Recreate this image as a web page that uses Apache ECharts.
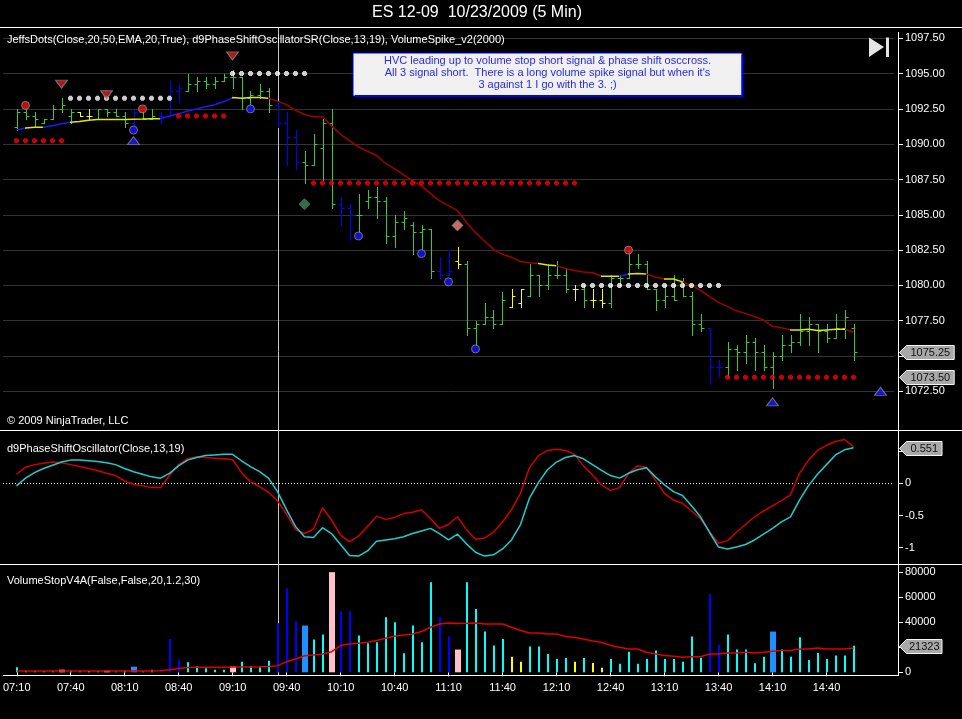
<!DOCTYPE html>
<html><head><meta charset="utf-8">
<script src="https://cdn.jsdelivr.net/npm/echarts@6/dist/echarts.min.js"></script>
<style>html,body{margin:0;padding:0;background:#000;}#c{width:962px;height:719px;}</style>
</head><body><div id="c"></div>
<script>
// ---------------- DATA ----------------
const tickLabels = ['07:10','07:40','08:10','08:40','09:10','09:40','10:10','10:40','11:10','11:40','12:10','12:40','13:10','13:40','14:10','14:40'];
const firstBarTime = '07:10';
const barMinutes = 5;

const barOpen = [1091.25,1092.25,1092.0,1091.5,1091.75,1092.5,1092.0,1092.25,1092.0,1091.75,
1092.5,1092.25,1092.0,1091.5,1092.25,1091.75,1092.0,1092.0,1093.75,1093.75,
1094.25,1094.5,1094.25,1094.5,1094.75,1094.75,1093.25,1093.5,1093.75,1092.75,
1091.5,1090.5,1088.75,1088.5,1089.75,1091.5,1085.75,1085.5,1085.0,1086.0,
1086.25,1086.0,1083.5,1084.5,1084.25,1083.75,1084.0,1081.0,1080.75,1081.75,
1081.5,1077.0,1077.25,1077.75,1077.25,1078.5,1078.75,1079.25,1080.75,1080.0,
1080.75,1080.75,1079.75,1079.75,1079.0,1079.0,1078.75,1080.5,1080.5,1081.5,
1081.5,1079.75,1079.0,1079.25,1080.25,1079.25,1077.25,1077.0,1074.25,1074.25,
1075.5,1075.25,1076.0,1075.25,1074.25,1075.0,1075.75,1076.0,1076.75,1077.25,
1076.75,1076.25,1077.0,1077.0];
const barHigh = [1092.5,1092.5,1092.25,1091.75,1092.75,1093.25,1092.5,1092.25,1092.5,1092.5,
1092.5,1092.5,1092.25,1092.5,1092.25,1092.5,1092.25,1094.5,1094.25,1095.0,
1094.75,1094.75,1094.75,1095.0,1095.25,1094.75,1093.75,1094.25,1094.0,1093.0,
1092.25,1091.0,1089.5,1090.75,1091.75,1092.5,1086.25,1085.75,1086.5,1086.75,
1087.0,1086.25,1085.0,1085.25,1084.5,1084.25,1084.0,1082.0,1082.5,1082.75,
1081.75,1077.5,1078.75,1078.25,1079.5,1079.75,1079.75,1081.5,1080.75,1081.5,
1081.75,1081.25,1080.0,1080.0,1079.75,1079.75,1080.75,1080.75,1082.5,1082.25,
1081.75,1079.75,1080.0,1080.75,1080.5,1079.5,1078.0,1077.0,1074.75,1076.0,
1075.75,1076.5,1076.25,1075.75,1075.25,1076.5,1076.5,1078.0,1077.75,1077.25,
1077.25,1078.0,1078.25,1077.25];
const barLow = [1091.0,1091.75,1091.25,1091.5,1091.75,1092.25,1091.5,1092.0,1091.75,1091.75,
1092.0,1092.0,1091.25,1091.0,1091.75,1091.75,1091.5,1092.0,1093.0,1093.75,
1093.75,1094.0,1094.0,1094.5,1094.0,1092.5,1092.75,1093.25,1092.25,1091.25,
1088.5,1088.25,1087.25,1088.5,1087.5,1085.5,1084.25,1083.25,1083.75,1085.5,
1084.75,1083.0,1082.75,1084.0,1082.25,1082.5,1080.5,1080.5,1080.75,1081.25,
1076.5,1075.75,1077.25,1077.0,1077.25,1078.5,1078.5,1079.25,1079.25,1079.75,
1080.5,1079.5,1079.0,1078.5,1078.5,1078.5,1078.5,1080.0,1080.5,1081.25,
1079.75,1078.25,1078.5,1079.0,1079.25,1076.5,1076.75,1073.0,1073.5,1073.5,
1074.0,1074.5,1074.0,1074.0,1072.75,1074.75,1075.25,1075.75,1075.75,1075.25,
1076.0,1076.25,1076.25,1074.75];
const barClose = [1092.25,1092.0,1091.75,1091.75,1092.5,1092.75,1092.25,1092.0,1092.0,1092.5,
1092.25,1092.0,1091.5,1092.25,1091.75,1092.0,1092.0,1093.75,1094.0,1094.25,
1094.5,1094.25,1094.5,1094.75,1094.75,1093.25,1093.5,1093.75,1092.75,1091.5,
1090.5,1088.75,1088.5,1090.0,1091.5,1085.75,1085.5,1085.0,1085.0,1086.25,
1086.0,1083.5,1084.5,1084.75,1083.75,1084.0,1081.0,1080.75,1081.0,1081.5,
1077.0,1077.25,1077.75,1077.25,1079.0,1079.25,1079.75,1080.75,1080.0,1080.75,
1080.75,1079.75,1079.75,1079.0,1079.0,1078.75,1080.5,1080.5,1081.5,1081.5,
1079.75,1079.0,1079.25,1079.0,1079.25,1077.25,1077.0,1074.25,1074.25,1075.5,
1075.25,1076.0,1075.25,1074.25,1075.0,1075.75,1076.0,1076.75,1077.25,1076.75,
1076.25,1077.0,1077.75,1075.25];
// bar state: G = neutral/green, B = blue, Y = yellow
const barState = 'GGGGGGGYYG'+'GGGBGGBBBG'+'GGGGGGGGGB'+'BBGGGGBBGG'+'GGGGGGGBBY'+'GGGGGYYGGG'+'GGYGYYGGGG'+'GGGGGGGBBG'+'GGGGGGGGGG'+'GGGG';

const emaValues = [1091.0,1091.15,1091.2,1091.2,1091.3,1091.45,1091.55,1091.6,1091.7,1091.75,
1091.75,1091.75,1091.75,1091.77,1091.78,1091.8,1091.8,1092.0,1092.15,1092.35,
1092.5,1092.65,1092.8,1093.0,1093.3,1093.25,1093.3,1093.3,1093.25,1093.05,
1092.8,1092.4,1092.1,1091.95,1091.95,1091.3,1090.7,1090.25,1089.8,1089.5,
1089.2,1088.65,1088.25,1087.85,1087.4,1087.05,1086.5,1086.0,1085.65,1085.3,
1084.45,1083.75,1083.15,1082.55,1082.2,1082.0,1081.7,1081.6,1081.55,1081.45,
1081.4,1081.2,1081.05,1080.95,1080.9,1080.65,1080.65,1080.65,1080.8,1080.85,
1080.8,1080.6,1080.45,1080.45,1080.25,1080.0,1079.65,1079.2,1078.8,1078.5,
1078.2,1078.0,1077.8,1077.55,1077.1,1077.0,1076.85,1076.85,1076.9,1076.8,
1076.85,1076.9,1076.9,1076.7];
// EMA trend state runs: [fromBar, toBar(exclusive), state]
const emaStateRuns = [[0,1,'B'],[1,3,'Y'],[3,6,'B'],[6,16,'Y'],[16,24,'B'],[24,28,'Y'],[28,58,'R'],[58,60,'Y'],[60,65,'R'],[65,67,'Y'],[67,68,'B'],[68,70,'Y'],[70,72,'R'],[72,74,'Y'],[74,86,'R'],[86,92,'Y'],[92,94,'R']];

// stop dots: [fromBar, toBar(inclusive), level]
const whiteDotRuns = [[6,17,1093.25],[24,32,1095.0],[63,78,1080.0]];
const redDotRuns = [[0,5,1090.25],[18,23,1092.0],[33,62,1087.25],[79,93,1073.5]];
// signal markers: [bar, price]
const redCircles = [[1,1092.75],[14,1092.5],[68,1082.5]];
const blueCircles = [[13,1091.0],[26,1092.5],[38,1083.5],[45,1082.25],[48,1080.25],[51,1075.5]];
const shortTriangles = [[5,1094.25],[10,1093.5],[24,1096.25]];
const longTriangles = [[13,1090.25],[84,1071.75],[96,1072.5]];
const shortDiamonds = [[32,1085.75]];
const spikeDiamonds = [[49,1084.25]];
const priceTags = [1075.25, 1073.5];

const oscRed = [0.14,0.25,0.29,0.31,0.33,0.32,0.29,0.26,0.23,0.20,
0.155,0.12,0.036,-0.015,-0.04,-0.067,-0.067,0.12,0.29,0.38,
0.41,0.40,0.39,0.38,0.37,0.165,0.026,-0.05,-0.14,-0.27,
-0.48,-0.72,-0.78,-0.71,-0.38,-0.57,-0.80,-0.91,-0.82,-0.67,
-0.51,-0.56,-0.53,-0.47,-0.45,-0.41,-0.55,-0.70,-0.64,-0.52,
-0.72,-0.87,-0.85,-0.76,-0.60,-0.41,-0.155,0.24,0.43,0.51,
0.53,0.51,0.45,0.27,0.13,-0.026,-0.11,-0.067,0.155,0.27,
0.25,0.05,-0.155,-0.26,-0.31,-0.43,-0.55,-0.75,-0.93,-0.89,
-0.76,-0.64,-0.52,-0.43,-0.35,-0.27,-0.18,0.155,0.36,0.51,
0.59,0.65,0.68,0.57];
const oscCyan = [-0.04,0.08,0.165,0.23,0.28,0.33,0.36,0.36,0.35,0.34,
0.32,0.29,0.23,0.18,0.14,0.10,0.08,0.155,0.27,0.36,
0.40,0.43,0.44,0.45,0.45,0.35,0.26,0.18,0.08,-0.13,
-0.41,-0.67,-0.83,-0.84,-0.69,-0.78,-0.95,-1.12,-1.13,-1.05,
-0.90,-0.88,-0.86,-0.83,-0.78,-0.74,-0.70,-0.78,-0.88,-0.79,
-0.94,-1.07,-1.13,-1.11,-1.02,-0.88,-0.64,-0.23,0.015,0.21,
0.33,0.40,0.43,0.38,0.29,0.20,0.12,0.08,0.155,0.21,
0.24,0.10,-0.026,-0.13,-0.19,-0.35,-0.52,-0.76,-0.99,-1.02,
-0.99,-0.95,-0.88,-0.79,-0.70,-0.60,-0.52,-0.26,-0.036,0.14,
0.29,0.44,0.52,0.551];

const volume = [4000,1300,1000,800,1300,2100,1300,800,1000,800,
1300,600,1300,4500,800,2100,2100,26700,10100,8000,
4800,3200,2100,2100,4800,8500,4800,4000,9300,39200,
67300,40800,37400,26200,30200,80100,48900,48900,29400,23200,
24000,44000,40000,15200,37400,24000,72000,44000,28800,18200,
72000,50700,32600,21400,26700,12500,8500,20600,20600,14700,
10700,11500,8500,11500,7500,3700,10700,6900,16500,6900,
10700,17400,10700,10700,8500,28600,11700,62700,21900,30200,
18200,18200,7200,12500,32600,18200,12500,28000,9900,15500,
10700,13400,13400,21323];
// volume kind: C normal, B blue, L light-blue spike, P pink spike, Y yellow
const volumeKind = 'CCCCCPCCYC'+'PCCLCCBBBC'+'CCCCPCCCCB'+'BBLCCPBBCC'+'CCCCCCCBBP'+'CCCCCYYCCC'+'CCYCYYCCCC'+'CCCCCCCBBC'+'CCCCLCCCCC'+'CCCC';
const volumeAvg = [1100,1100,1100,1100,1100,1100,1100,1100,1100,1100,
1100,1100,1100,1100,1100,1100,1200,2100,3000,3800,
4000,4000,4000,4000,4200,4300,4300,4400,4600,5300,
8500,10700,13300,13800,14700,16500,21400,22700,23200,24000,
25400,27200,28800,29900,30700,32600,36000,38700,39500,39000,
39200,39500,38700,38700,38700,36000,33400,31500,31500,30700,
30700,28600,27800,26700,25100,24000,21400,20000,18700,18700,
16000,14700,13400,12800,12000,12500,12500,14700,14700,15500,
15500,16000,15500,16000,16800,17400,17400,18700,18700,19500,
18700,18700,18700,19500];
const markerBar = 29;

// ---------------- STYLE / BUILD ----------------
const FONT = '"Liberation Sans", Arial, sans-serif';
const N = barOpen.length, LEAD = 1, NCAT = 99;
const cats = [];
for (let k = 0; k < NCAT; k++) {
  const i = k - LEAD;
  if (i < 0) { cats.push(''); continue; }
  const [hh, mm] = firstBarTime.split(':').map(Number);
  const m = hh * 60 + mm + barMinutes * i;
  cats.push(String(Math.floor(m / 60)).padStart(2, '0') + ':' + String(m % 60).padStart(2, '0'));
}
const barColor = {G:'#32cd32', B:'#0000ff', Y:'#ffff00'};
const emaColor = {B:'#1a1aff', Y:'#e6e600', R:'#a00000'};
const volColor = {C:'#00ffff', B:'#0000ff', L:'#1e90ff', P:'#ffc0cb', Y:'#ffff00'};
const PLUS = 'path://M1,0 H4 V1 H5 V4 H4 V5 H1 V4 H0 V1 H1 Z';

const ohlcData = barOpen.map((o, i) => ({value:[i + LEAD, o, barHigh[i], barLow[i], barClose[i]], itemStyle:{color: barColor[barState[i]]}}));
const emaData = emaValues.map((v, i) => [i + LEAD, v]);
const expand = runs => { const out = []; runs.forEach(([a, b, lv]) => { for (let i = a; i <= b; i++) out.push([i + LEAD, lv]); }); return out; };
const pts = arr => arr.map(([i, p]) => [i + LEAD, p]);
const volData = volume.map((v, i) => ({value:[i + LEAD, v, ('LP'.indexOf(volumeKind[i]) >= 0) ? 6 : 2], itemStyle:{color: volColor[volumeKind[i]]}}));
const labelFilter = (idx, val) => tickLabels.indexOf(val) >= 0;

function tagSeries(gx, gy, value, text, z) {
  return {
    type:'custom', xAxisIndex:gx, yAxisIndex:gy, z: z || 10, silent:true,
    data:[[LEAD + N - 1, value]],
    renderItem: function (params, api) {
      const y = Math.round(api.coord([api.value(0), api.value(1)])[1]) + 0.5;
      const cs = params.coordSys;
      const x0 = cs.x + cs.width + 5.5;
      const w = text.length * 6.1 + 5, h = 7;
      return {type:'group', children:[
        {type:'polygon', shape:{points:[[x0, y], [x0 + 7, y - h], [x0 + 7 + w, y - h], [x0 + 7 + w, y + h], [x0 + 7, y + h]]},
         style:{fill:'#a8a8a8', stroke:'#f4f4f4', lineWidth:1}},
        {type:'text', style:{text:text, x:x0 + 7 + w / 2, y:y + 0.5, align:'center', verticalAlign:'middle', textAlign:'center', textVerticalAlign:'middle', fill:'#111', font:'11px ' + FONT}}
      ]};
    }
  };
}

const xBase = {type:'category', data:cats, boundaryGap:true, axisLine:{show:false}, axisTick:{show:false}, axisLabel:{show:false}, splitLine:{show:false}};
const yBase = {type:'value', position:'right', offset:4, scale:false,
  axisLine:{show:true, lineStyle:{color:'#fff', width:1}},
  axisTick:{show:true, length:5, lineStyle:{color:'#fff'}},
  axisLabel:{color:'#fff', fontSize:11, fontFamily:FONT, margin:7}};

const chart = echarts.init(document.getElementById('c'));
const option = {
  backgroundColor:'#000',
  animation:false,
  grid:[
    {left:3, width:891, top:38.3, height:388.3},
    {left:3, width:891, top:451.1, height:96.6},
    {left:3, width:891, top:572.3, height:100}
  ],
  xAxis:[
    Object.assign({}, xBase, {gridIndex:0}),
    Object.assign({}, xBase, {gridIndex:1}),
    Object.assign({}, xBase, {gridIndex:2, offset:3,
      axisTick:{show:true, interval:labelFilter, alignWithLabel:true, length:4, lineStyle:{color:'#fff'}},
      axisLabel:{show:true, interval:labelFilter, color:'#fff', fontSize:11, fontFamily:FONT, margin:7}})
  ],
  yAxis:[
    Object.assign({}, yBase, {gridIndex:0, min:1070, max:1097.5, interval:2.5,
      axisLabel:Object.assign({}, yBase.axisLabel, {showMinLabel:false, formatter:v => v.toFixed(2)}),
      splitLine:{show:true, showMinLine:false, lineStyle:{color:'#333333', width:1}}}),
    Object.assign({}, yBase, {gridIndex:1, min:-1, max:0.5, interval:0.5, splitLine:{show:false}}),
    Object.assign({}, yBase, {gridIndex:2, min:0, max:80000, interval:20000, splitLine:{show:false},
      axisLabel:Object.assign({}, yBase.axisLabel, {formatter:v => String(v)})})
  ],
  visualMap:[{
    type:'piecewise', show:false, seriesIndex:1, dimension:0,
    pieces: emaStateRuns.map(([a, b, s]) => ({gte:a + LEAD, lt:b + LEAD, color:emaColor[s]})),
    outOfRange:{color:'#a00000'}
  }],
  series:[
    {type:'custom', xAxisIndex:0, yAxisIndex:0, z:2, silent:true, data:ohlcData,
     renderItem:function (params, api) {
       const x = api.value(0);
       const ph = api.coord([x, api.value(2)]), pl = api.coord([x, api.value(3)]);
       const po = api.coord([x, api.value(1)]), pc = api.coord([x, api.value(4)]);
       const col = api.visual('color');
       const cx = Math.round(ph[0]) + 0.5;
       const st = {stroke:col, lineWidth:1};
       const oy = Math.round(po[1]) + 0.5, cy = Math.round(pc[1]) + 0.5;
       return {type:'group', children:[
         {type:'line', shape:{x1:cx, y1:Math.round(ph[1]), x2:cx, y2:Math.round(pl[1]) + 1}, style:st},
         {type:'line', shape:{x1:cx - 3, y1:oy, x2:cx, y2:oy}, style:st},
         {type:'line', shape:{x1:cx, y1:cy, x2:cx + 3, y2:cy}, style:st}
       ]};
     }},
    {type:'line', xAxisIndex:0, yAxisIndex:0, z:3, data:emaData, symbol:'none', showSymbol:false, lineStyle:{width:1.5}, silent:true},
    {type:'scatter', xAxisIndex:0, yAxisIndex:0, z:4, data:expand(whiteDotRuns), symbol:PLUS, symbolSize:5, itemStyle:{color:'#ffffff'}, silent:true},
    {type:'scatter', xAxisIndex:0, yAxisIndex:0, z:4, data:expand(redDotRuns), symbol:PLUS, symbolSize:5, itemStyle:{color:'#ff0000'}, silent:true},
    {type:'scatter', xAxisIndex:0, yAxisIndex:0, z:5, data:pts(redCircles), symbol:'circle', symbolSize:8, itemStyle:{color:'#ee1111', borderColor:'#8a8a8a', borderWidth:1}, silent:true},
    {type:'scatter', xAxisIndex:0, yAxisIndex:0, z:5, data:pts(blueCircles), symbol:'circle', symbolSize:8, itemStyle:{color:'#1515ff', borderColor:'#8a8a8a', borderWidth:1}, silent:true},
    {type:'scatter', xAxisIndex:0, yAxisIndex:0, z:5, data:pts(shortTriangles), symbol:'triangle', symbolRotate:180, symbolSize:[12,8], itemStyle:{color:'#d42020', borderColor:'#8a8a8a', borderWidth:1}, silent:true},
    {type:'scatter', xAxisIndex:0, yAxisIndex:0, z:5, data:pts(longTriangles), symbol:'triangle', symbolSize:[12,8], clip:false, itemStyle:{color:'#1a1aff', borderColor:'#8a8a8a', borderWidth:1}, silent:true},
    {type:'scatter', xAxisIndex:0, yAxisIndex:0, z:5, data:pts(shortDiamonds), symbol:'diamond', symbolSize:[11,11], itemStyle:{color:'#3a8a5c', borderColor:'#6a6a6a', borderWidth:1}, silent:true},
    {type:'scatter', xAxisIndex:0, yAxisIndex:0, z:5, data:pts(spikeDiamonds), symbol:'diamond', symbolSize:[11,11], itemStyle:{color:'#f58a78', borderColor:'#8a8a8a', borderWidth:1}, silent:true},
    tagSeries(0, 0, priceTags[0], priceTags[0].toFixed(2)),
    tagSeries(0, 0, priceTags[1], priceTags[1].toFixed(2)),
    {type:'line', xAxisIndex:1, yAxisIndex:1, z:3, clip:false, data:oscRed.map((v, i) => [i + LEAD, v]), symbol:'none', lineStyle:{color:'#d00000', width:1.5}, silent:true},
    {type:'line', xAxisIndex:1, yAxisIndex:1, z:4, clip:false, data:oscCyan.map((v, i) => [i + LEAD, v]), symbol:'none', lineStyle:{color:'#22cccc', width:1.5}, silent:true,
     markLine:{silent:true, symbol:['none','none'], label:{show:false}, lineStyle:{color:'#ffffff', type:[1,2], width:1}, data:[{yAxis:0}], z:2}},
    tagSeries(1, 1, oscCyan[N - 1], oscCyan[N - 1].toFixed(3)),
    {type:'custom', xAxisIndex:2, yAxisIndex:2, z:2, silent:true, data:volData,
     renderItem:function (params, api) {
       const top = api.coord([api.value(0), api.value(1)]);
       const bot = api.coord([api.value(0), 0]);
       const w = api.value(2);
       return {type:'rect', shape:{x:Math.round(top[0] - w / 2), y:top[1], width:w, height:bot[1] - top[1]}, style:{fill:api.visual('color')}};
     }},
    {type:'line', xAxisIndex:2, yAxisIndex:2, z:4, data:volumeAvg.map((v, i) => [i + LEAD, v]), symbol:'none', lineStyle:{color:'#e00000', width:1.5}, silent:true},
    tagSeries(2, 2, volume[N - 1], String(volume[N - 1]))
  ]
};
chart.setOption(option);

const vx = Math.round(chart.convertToPixel({xAxisIndex:0}, markerBar + LEAD)) + 0.5;
const txt = (text, x, y, size, color, align) => ({type:'text', x:x, y:y, silent:true, z:20,
  style:{text:text, fill:color || '#fff', font:(size || 11) + 'px ' + FONT, textAlign:align || 'left', align:align || 'left', textVerticalAlign:'middle', verticalAlign:'middle'}});
const hline = (y, x1, x2, c) => ({type:'line', silent:true, z:1, shape:{x1:x1, y1:y, x2:x2, y2:y}, style:{stroke:c || '#fff', lineWidth:1}});
chart.setOption({graphic:{elements:[
  txt('ES 12-09  10/23/2009 (5 Min)', 477, 13, 16, '#fff', 'center'),
  hline(27.5, 0, 962),
  hline(430.5, 0, 962),
  hline(564.5, 0, 962),
  hline(675.5, 3, 898),
  {type:'line', silent:true, z:1, shape:{x1:898.5, y1:32, x2:898.5, y2:676}, style:{stroke:'#fff', lineWidth:1}},
  {type:'line', silent:true, z:1, shape:{x1:vx, y1:28, x2:vx, y2:675}, style:{stroke:'#c8c8c8', lineWidth:1}},
  txt('JeffsDots(Close,20,50,EMA,20,True), d9PhaseShiftOscillatorSR(Close,13,19), VolumeSpike_v2(2000)', 7, 40, 11),
  txt('\u00a9 2009 NinjaTrader, LLC', 7, 421, 11),
  txt('d9PhaseShiftOscillator(Close,13,19)', 7, 449, 11),
  txt('VolumeStopV4A(False,False,20,1.2,30)', 7, 581, 11),
  {type:'rect', silent:true, z:20, shape:{x:353, y:53, width:389, height:43}, style:{fill:'#f0f0f0', stroke:'#0000ff', lineWidth:1}},
  {type:'line', silent:true, z:21, shape:{x1:355, y1:96, x2:743, y2:96}, style:{stroke:'#0000ff', lineWidth:2}},
  {type:'line', silent:true, z:21, shape:{x1:742.5, y1:55, x2:742.5, y2:97}, style:{stroke:'#0000ff', lineWidth:2}},
  txt('HVC leading up to volume stop short signal & phase shift osccross.', 547.5, 60.5, 11, '#2a2ae0', 'center'),
  txt("All 3 signal short.  There is a long volume spike signal but when it's", 547.5, 72.5, 11, '#2a2ae0', 'center'),
  txt('3 against 1 I go with the 3. ;)', 547.5, 84.5, 11, '#2a2ae0', 'center'),
  {type:'polygon', silent:true, z:20, shape:{points:[[869,37.5],[884,47],[869,57]]}, style:{fill:'#e4e4e4'}},
  {type:'rect', silent:true, z:20, shape:{x:886, y:37.5, width:3, height:19.5}, style:{fill:'#e4e4e4'}}
]}});
</script>
</body></html>
